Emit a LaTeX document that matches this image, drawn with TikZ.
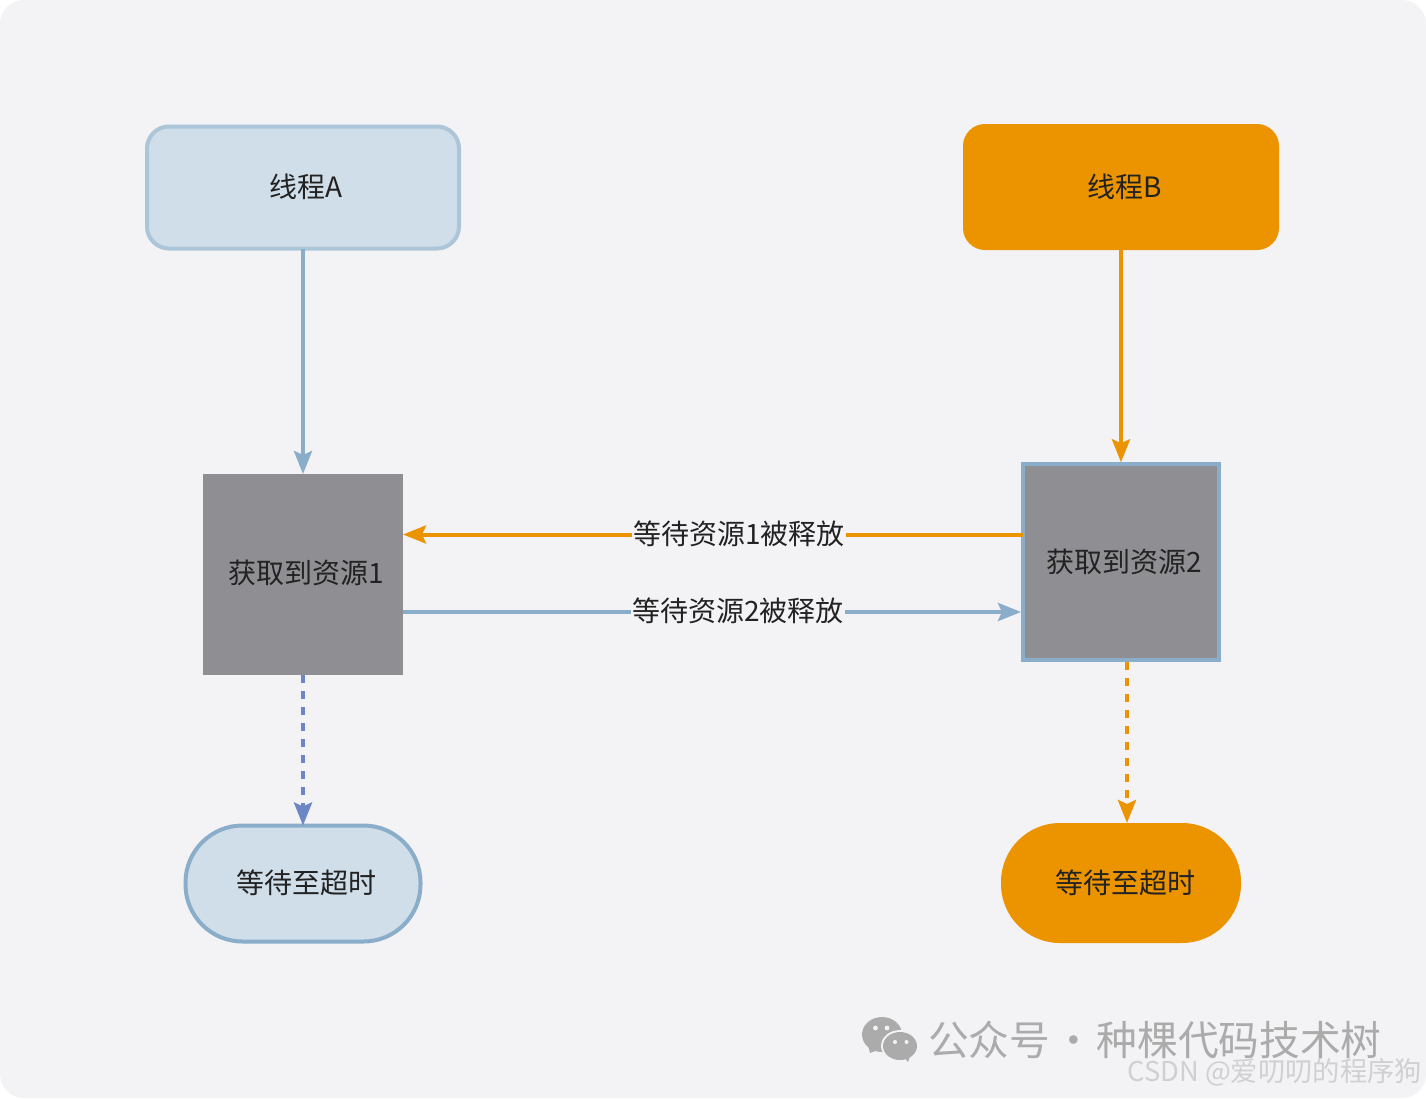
\documentclass[tikz,border=0pt]{standalone}
\usepackage{fontspec}
\setmainfont{Noto Sans CJK SC}
\usetikzlibrary{arrows.meta}
\definecolor{pagebg}{HTML}{F3F3F6}
\definecolor{bluefill}{HTML}{D0DEE9}
\definecolor{blueline}{HTML}{ACC5D9}
\definecolor{steel}{HTML}{8AADC9}
\definecolor{orangeC}{HTML}{EB9400}
\definecolor{grayfill}{HTML}{8F8E93}
\definecolor{dashblue}{HTML}{6C86C6}
\definecolor{txt}{HTML}{222222}
\definecolor{wmgray}{HTML}{ABABAB}
\definecolor{wmlight}{HTML}{D0D0D3}
\tikzset{
  x=1pt,y=-1pt,
  every node/.style={outer sep=0pt,inner sep=0pt,text=txt,font=\fontsize{28}{32}\selectfont},
  startbox/.style={rounded corners=#1,minimum width=312pt,minimum height=122pt},
  bluebox/.style={draw=blueline,line width=4pt,fill=bluefill},
  orangebox/.style={fill=orangeC},
  endbluebox/.style={draw=steel,line width=4pt,fill=bluefill,rounded corners=57pt,minimum width=235pt,minimum height=116pt},
  endorangebox/.style={fill=orangeC,rounded corners=59pt,minimum width=240pt,minimum height=120pt},
  tipA/.style={-{Stealth[length=23pt,width=18pt,inset=4pt]}},
  link/.style={line width=4pt,tipA},
  dashlink/.style={line width=4pt,dash pattern=on 8pt off 8pt,tipA},
  edgetext/.style={fill=pagebg,inner xsep=1pt,inner ysep=1pt,yshift=1pt},
  boxtext/.style={anchor=center}
}
\begin{document}
\begin{tikzpicture}
\useasboundingbox (0,0) rectangle (1426,1098);
\fill[white] (0,0) rectangle (1426,1098);
\fill[pagebg,rounded corners=24pt] (0,0) rectangle (1426,1098);

\node[startbox=22pt,bluebox] (a) at (303,187.5) {};
\node[boxtext] (atext) at (306.5,186.5) {线程A};
\node[startbox=22pt,orangebox,minimum width=316pt,minimum height=126pt] (b) at (1121,187) {};
\node[boxtext] (btext) at (1125,186.5) {线程B};

\node[fill=grayfill,minimum width=200pt,minimum height=201pt] (r1) at (303,574.5) {};
\node[boxtext] (r1text) at (306,573) {获取到资源1};
\node[fill=grayfill,draw=steel,line width=4pt,minimum size=196pt] (r2) at (1121,562.3) {};
\node[boxtext] (r2text) at (1124.5,561.5) {获取到资源2};

\node[endbluebox] (ea) at (303,883.5) {};
\node[boxtext] (eatext) at (306.5,883) {等待至超时};
\node[endorangebox] (eb) at (1121,883) {};
\node[boxtext] (ebtext) at (1125,883) {等待至超时};

\draw[link,draw=steel] (a.south) -- (r1.north);
\draw[link,draw=orangeC] (b.south) -- ([yshift=2pt]r2.north);
\draw[link,draw=orangeC] ([yshift=27.8pt]r2.west) -- node[edgetext,pos=.458] (l1) {等待资源1被释放} ([yshift=40pt]r1.east);
\draw[link,draw=steel] ([yshift=-37.5pt]r1.east) -- node[edgetext,pos=.542] (l2) {等待资源2被释放} ([yshift=-49.7pt,xshift=-2pt]r2.west);
\draw[dashlink,draw=dashblue] (r1.south) -- (ea.north);
\draw[dashlink,draw=orangeC] ([xshift=6pt,yshift=-2pt]r2.south) -- ([xshift=6pt]eb.north);

% WeChat mark
\fill[wmgray] (882,1034.5) ellipse [x radius=20,y radius=17.5];
\fill[wmgray] (868,1045) -- (870,1053) -- (881,1049) -- cycle;
\fill[pagebg] (900,1046) ellipse [x radius=19,y radius=16];
\fill[wmgray] (900,1046) ellipse [x radius=17,y radius=14];
\fill[wmgray] (903,1056) -- (908,1062) -- (911,1053) -- cycle;
\fill[pagebg] (875.5,1028) circle (2.4) (887,1028) circle (2.4) (895,1042) circle (2) (906.5,1042) circle (2);

\node[anchor=west,text=wmgray,font=\fontsize{40.7}{46}\selectfont] (wm) at (928,1040) {公众号\hspace{3pt}·\hspace{3pt}种棵代码技术树};
\node[anchor=east,text=wmlight,font=\fontsize{27.3}{30}\selectfont] (csdn) at (1422,1072) {CSDN @爱叨叨的程序狗};
\end{tikzpicture}
\end{document}
